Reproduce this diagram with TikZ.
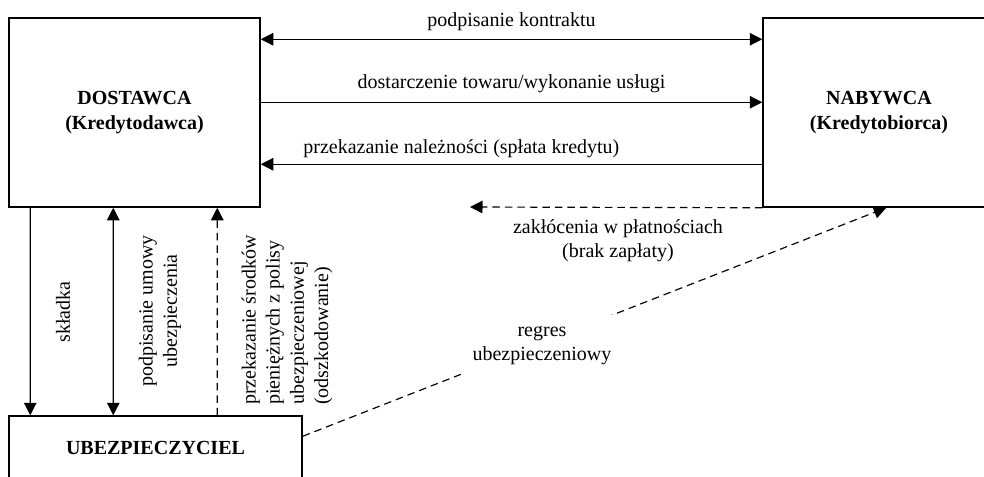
\documentclass[12pt,tikz,border=0pt]{standalone}
\usepackage{fontspec}
\setmainfont{Liberation Serif}
\usetikzlibrary{arrows.meta,calc}
\tikzstyle{box} = [draw, line width=0.9pt, font=\bfseries, align=center]
\tikzstyle{lbl} = [align=center]
\tikzstyle{dsh} = [dash pattern=on 4.5pt off 3pt]

\begin{document}
\begin{tikzpicture}[x=0.6pt, y=-0.6pt, line width=0.7pt, >={Triangle[length=7.5pt,width=7.5pt]}]
  \useasboundingbox (0,0) rectangle (984,476);
  \clip (0,0) rectangle (984,476);
  \node (d) at (134.5,112.5) [box, minimum width=150.6pt, minimum height=113.4pt] {DOSTAWCA\\(Kredytodawca)};
  \node (n) at (879,112.5) [box, minimum width=139.2pt, minimum height=113.4pt] {NABYWCA\\(Kredytobiorca)};
  \node (u) at (155.5,448) [box, minimum width=175.8pt, minimum height=38.4pt] {UBEZPIECZYCIEL};
  \coordinate (z) at (470,207);
  \draw [<->] ($(d.north east)+(0,22)$) to node [above=1pt] {podpisanie kontraktu} ($(n.north west)+(0,22)$);
  \draw [->] ($(d.north east)+(0,85)$) to node [above=1.5pt] {dostarczenie towaru/wykonanie usługi} ($(n.north west)+(0,85)$);
  \draw [->] ($(n.north west)+(0,147)$) to node [above=-0.5pt, pos=0.6] {przekazanie należności (spłata kredytu)} ($(d.north east)+(0,147)$);
  \draw [dsh, ->] (n.south west) to (z);
  \node (zl) at (618,241) [lbl] {zakłócenia w płatnościach\\(brak zapłaty)};
  \draw [->] ($(d.south west)+(22,0)$) to ($(u.north west)+(22,0)$);
  \draw [<->] ($(d.south west)+(105,0)$) to ($(u.north west)+(105,0)$);
  \draw [dsh, ->] ($(u.north west)+(209,0)$) to ($(d.south west)+(209,0)$);
  \node (s) at (63,312) [rotate=90] {składka};
  \node (p) at (160,311) [lbl, rotate=90] {podpisanie umowy\\ubezpieczenia};
  \node (o) at (287,320) [rotate=90, align=left] {przekazanie środków\\pieniężnych z polisy\\ubezpieczeniowej\\(odszkodowanie)};
  \draw [dsh, ->] ($(u.north east)+(0,21)$) to node [pos=0.41, yshift=-2pt, fill=white, inner sep=7pt, lbl] {regres\\ubezpieczeniowy} ($(n.south west)+(124,0)$);
\end{tikzpicture}
\end{document}
